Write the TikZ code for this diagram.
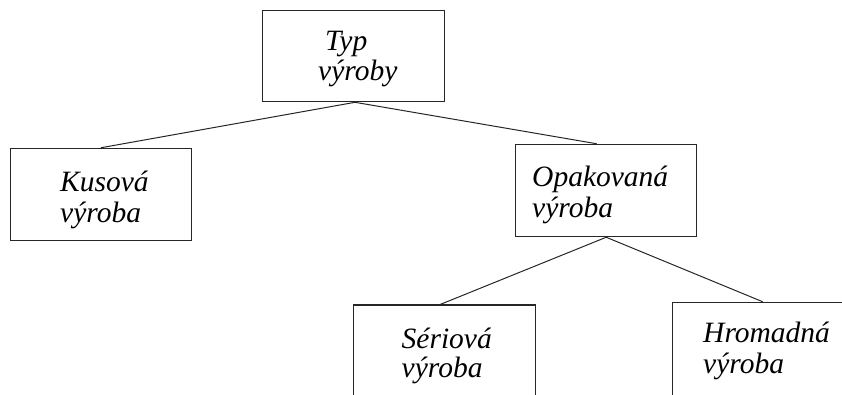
\documentclass[tikz,border=0pt]{standalone}
\usepackage{fontspec}
\setmainfont{Liberation Serif}
\begin{document}
\begin{tikzpicture}[x=1pt,y=-1pt,
  box/.style={draw=black!85, line width=1.1pt, rectangle, inner sep=0pt},
  lbl/.style={anchor=base west, inner sep=0pt, font=\fontsize{29.5}{31}\selectfont\itshape},
  link/.style={draw=black!85, line width=1pt}]
\useasboundingbox (0,0) rectangle (842,394);
\clip (0,0) rectangle (842,394);

% boxes
\node[box, minimum width=181.6pt, minimum height=91.7pt] (typ)  at (353.5,55.9) {};
\node[box, minimum width=181.7pt, minimum height=92.4pt] (kus)  at (100.9,194.5) {};
\node[box, minimum width=181pt,   minimum height=92.4pt] (opak) at (606.2,190.5) {};
\node[box, minimum width=181.7pt, minimum height=110pt]  (ser)  at (444.2,360) {};
\node[box, minimum width=190pt,   minimum height=110pt]  (hrom) at (767.3,357.3) {};

% labels
\node[lbl] (t1) at (325,50)    {Typ};
\node[lbl] (t2) at (318,80)    {výroby};
\node[lbl] (k1) at (60,191.7)  {Kusová};
\node[lbl] (k2) at (60,222.5)  {výroba};
\node[lbl] (o1) at (532,186.7) {Opakovaná};
\node[lbl] (o2) at (532,217.5) {výroba};
\node[lbl] (s1) at (401.5,348) {Sériová};
\node[lbl] (s2) at (401.5,377) {výroba};
\node[lbl] (h1) at (703,342)   {Hromadná};
\node[lbl] (h2) at (703,373.5) {výroba};

% connectors
\draw[link] ([xshift=1.5pt]typ.south) -- (kus.north);
\draw[link] ([xshift=1.5pt]typ.south) -- ([xshift=-9.5pt]opak.north);
\draw[link] (opak.south) -- ([xshift=-4pt]ser.north);
\draw[link] (opak.south) -- ([xshift=-4.6pt]hrom.north);
\end{tikzpicture}
\end{document}
